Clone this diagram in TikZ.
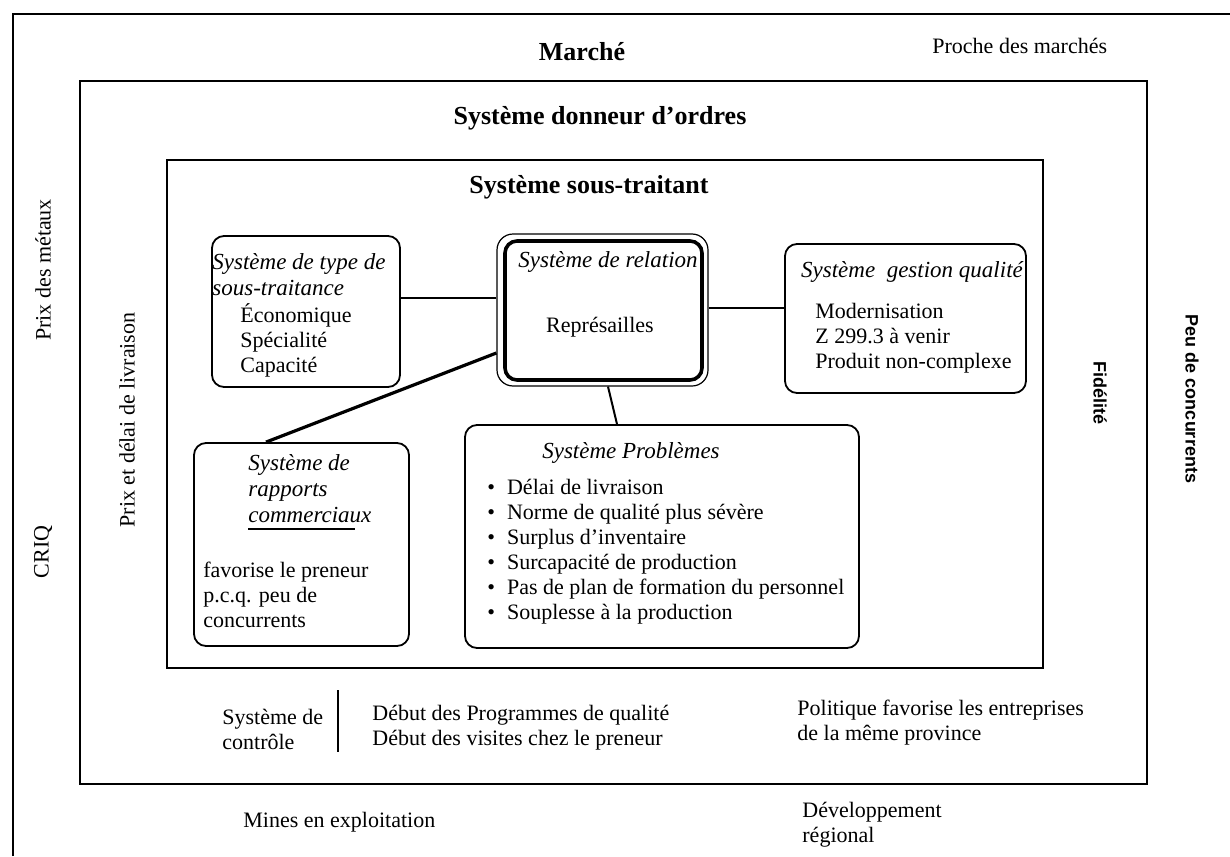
\documentclass[tikz,border=0pt]{standalone}
\usepackage{fontspec}
\setmainfont{Liberation Serif}
\setsansfont{Liberation Sans}

\begin{document}
\begin{tikzpicture}[x=0.5pt, y=-0.5pt,
    frame/.style={line width=1.2pt},
    sysbox/.style={draw, rectangle, rounded corners=6pt, line width=0.9pt, inner sep=0pt},
    head/.style={font=\fontsize{13}{15}\selectfont\bfseries, inner sep=0pt},
    boxhead/.style={font=\fontsize{11.5}{13}\selectfont\itshape, inner sep=0pt, align=left},
    txt/.style={font=\fontsize{11}{12.5}\selectfont, inner sep=0pt, align=left},
    sidetxt/.style={font=\sffamily\bfseries\fontsize{9}{11}\selectfont, inner sep=0pt},
    link/.style={line width=1pt}]
    \useasboundingbox (0,0) rectangle (1230,856);

    % Frames
    \draw[frame] (13,856) -- (13,14) -- (1230,14);
    \draw[frame] (80,81) rectangle (1147,784);
    \draw[frame] (167,160) rectangle (1043,668);

    % Titles
    \node[head] (marche) at (582,52) {Marché};
    \node[txt, anchor=west] (proche) at (932,46) {Proche des marchés};
    \node[head] (donneur) at (600,118) {Système donneur d’ordres};
    \node[head] (soustraitant) at (589,187) {Système sous-traitant};

    % Side labels
    \node[txt, rotate=90] (metaux) at (43,270) {Prix des métaux};
    \node[txt, rotate=90] (criq) at (43,552) {CRIQ};
    \node[txt, rotate=90] (prixdelai) at (127,420) {Prix et délai de livraison};
    \node[sidetxt, rotate=-90] (fidelite) at (1100,393) {Fidélité};
    \node[sidetxt, rotate=-90] (peu) at (1192,399) {Peu de concurrents};

    % Boxes
    \node[sysbox, minimum width=94pt, minimum height=75.5pt] (typebox) at (306,311.5) {};
    \node[sysbox, rounded corners=8pt, line width=0.6pt, minimum width=105.5pt, minimum height=76pt] (relbox) at (602.5,310) {};
    \node[sysbox, rounded corners=6pt, line width=1.8pt, minimum width=98.5pt, minimum height=69.5pt] (relinner) at (603.5,310.5) {};
    \node[sysbox, minimum width=120.5pt, minimum height=74.5pt] (qualbox) at (905.5,318.5) {};
    \node[sysbox, minimum width=107.5pt, minimum height=101.5pt] (rappbox) at (301.5,544.5) {};
    \node[sysbox, minimum width=197pt, minimum height=111.5pt] (probbox) at (662,536.5) {};

    % Box contents
    \node[boxhead, anchor=west] (typetitle) at (212,275) {Système de type de\\sous-traitance};
    \node[txt, anchor=west] (typeitems) at (240,340) {Économique\\Spécialité\\Capacité};
    \node[boxhead] (reltitle) at (608,262) {Système de relation};
    \node[txt] (relitem) at (600,327) {Représailles};
    \node[boxhead] (qualtitle) at (912,272) {Système\ \ gestion qualité};
    \node[txt, anchor=west] (qualitems) at (815,338) {Modernisation\\Z 299.3 à venir\\Produit non-complexe};
    \node[boxhead, anchor=west] (rapptitle) at (248,489) {Système de\\rapports\\commerciaux};
    \draw[line width=1.3pt] (248,529) -- (355,529);
    \node[txt, anchor=west] (rapptext) at (203,595) {favorise le preneur\\p.c.q. peu de\\concurrents};
    \node[boxhead] (probtitle) at (631,453) {Système Problèmes};
    \node[txt, anchor=west] (problist) at (487,552) {%
        \textbullet\hspace{6pt}Délai de livraison\\
        \textbullet\hspace{6pt}Norme de qualité plus sévère\\
        \textbullet\hspace{6pt}Surplus d’inventaire\\
        \textbullet\hspace{6pt}Surcapacité de production\\
        \textbullet\hspace{6pt}Pas de plan de formation du personnel\\
        \textbullet\hspace{6pt}Souplesse à la production};

    % Links
    \draw[link] ([yshift=6.75pt]typebox.east) -- ([yshift=6pt]relbox.west);
    \draw[link] ([yshift=1pt]relbox.east) -- ([yshift=5.25pt]qualbox.west);
    \draw[link] ([xshift=2.75pt]relbox.south) -- ([xshift=-22.5pt]probbox.north);
    \draw[line width=1.6pt] ([yshift=-21.5pt]relbox.west) -- ([xshift=-17.75pt]rappbox.north);

    % Bottom
    \node[txt, anchor=west] (controle) at (222,729) {Système de\\contrôle};
    \draw[line width=1pt] (338,690) -- (338,752);
    \node[txt, anchor=west] (debut) at (372,728) {Début des Programmes de qualité\\Début des visites chez le preneur};
    \node[txt, anchor=west] (politique) at (797,723) {Politique favorise les entreprises\\de la même province};
    \node[txt, anchor=west] (mines) at (243,822) {Mines en exploitation};
    \node[txt, anchor=west] (devel) at (802,825) {Développement\\régional};
\end{tikzpicture}
\end{document}
